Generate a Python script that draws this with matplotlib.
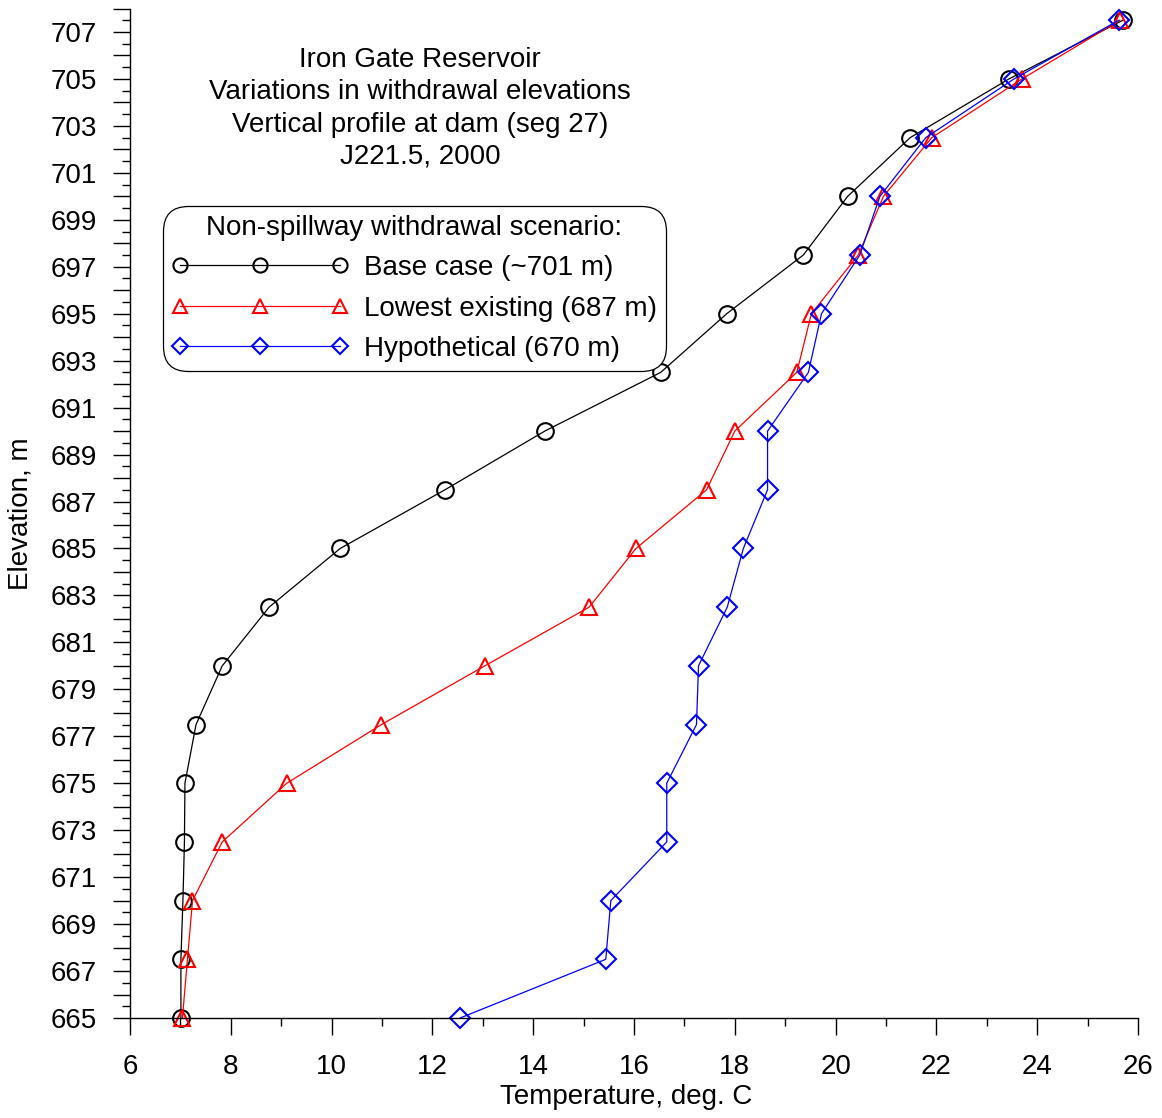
import matplotlib
matplotlib.use("Agg")
import matplotlib.pyplot as plt
from matplotlib.ticker import MultipleLocator, FixedLocator, FixedFormatter

plt.rcParams['font.family'] = ['Liberation Sans', 'DejaVu Sans']

elevation = [665, 667.5, 670, 672.5, 675, 677.5, 680, 682.5, 685, 687.5,
             690, 692.5, 695, 697.5, 700, 702.5, 705, 707.5]
base_case = [7.01, 7.01, 7.05, 7.08, 7.09, 7.31, 7.83, 8.76, 10.17, 12.25,
             14.23, 16.53, 17.84, 19.36, 20.24, 21.48, 23.44, 25.70]
lowest_existing = [7.04, 7.14, 7.24, 7.83, 9.11, 10.99, 13.04, 15.11, 16.04, 17.44,
                   18.00, 19.23, 19.52, 20.45, 20.95, 21.91, 23.70, 25.64]
hypothetical = [12.55, 15.44, 15.54, 16.65, 16.65, 17.24, 17.28, 17.85, 18.17, 18.65,
                18.65, 19.46, 19.72, 20.48, 20.88, 21.79, 23.54, 25.62]

labels = ["Base case (~701 m)", "Lowest existing (687 m)", "Hypothetical (670 m)"]
y_ticks = list(range(665, 709))
y_tick_labels = [str(v) if v % 2 == 1 else "" for v in y_ticks]
x_tick_labels = list(range(6, 27, 2))

W, H = 1162, 1118
fig = plt.figure(figsize=(W / 100, H / 100), dpi=100)
L, R, B, T = 130, 1138, 1018, 8.5
ax = fig.add_axes([L / W, 1 - B / H, (R - L) / W, (B - T) / H])

fs = 20
ax.plot(base_case, elevation, color='black', lw=0.9, marker='o', ms=12,
        mfc='none', mec='black', mew=1.5, clip_on=False, label=labels[0])
ax.plot(lowest_existing, elevation, color='red', lw=0.9, marker='^', ms=12,
        mfc='none', mec='red', mew=1.5, clip_on=False, label=labels[1])
ax.plot(hypothetical, elevation, color='blue', lw=0.9, marker='D', ms=10,
        mfc='none', mec='blue', mew=1.5, clip_on=False, label=labels[2])

ax.set_xlim(6, 26)
ax.set_ylim(665, 708)
ax.set_xticks(x_tick_labels)
ax.xaxis.set_minor_locator(MultipleLocator(1))
ax.yaxis.set_major_locator(FixedLocator(y_ticks))
ax.yaxis.set_major_formatter(FixedFormatter(y_tick_labels))
ax.yaxis.set_minor_locator(MultipleLocator(0.5))
ax.tick_params(axis='both', which='major', length=12, width=1, labelsize=fs,
               direction='out', colors='black')
ax.tick_params(axis='y', which='major', pad=12)
ax.tick_params(axis='x', which='major', pad=14)
ax.tick_params(axis='both', which='minor', length=6, width=1, direction='out')

for s in ['top', 'right']:
    ax.spines[s].set_visible(False)
for s in ['left', 'bottom']:
    ax.spines[s].set_linewidth(1)

ax.set_xlabel("Temperature, deg. C", fontsize=fs, va='center')
ax.xaxis.set_label_coords(0.492, -0.078)
ax.set_ylabel("Elevation, m", fontsize=fs, va='center')
ax.yaxis.set_label_coords(-0.109, 0.5)

title_lines = ["Iron Gate Reservoir", "Variations in withdrawal elevations",
               "Vertical profile at dam (seg 27)", "J221.5, 2000"]
for i, t in enumerate(title_lines):
    yp = 60 + i * 32.3
    ax.text((420 - L) / (R - L), 1 - (yp - T) / (B - T), t, transform=ax.transAxes,
            ha='center', va='center', fontsize=fs)

leg = ax.legend(loc='upper left', bbox_to_anchor=((163 - L) / (R - L), 1 - (206 - T) / (B - T)),
                borderaxespad=0, fontsize=fs, title="Non-spillway withdrawal scenario:",
                title_fontsize=fs, numpoints=3, handlelength=6.36, handletextpad=0.57,
                borderpad=0.31, labelspacing=0.52, frameon=True, fancybox=True,
                edgecolor='black', framealpha=1, markerscale=0.85)
leg.get_frame().set_linewidth(0.9)
leg.legendPatch.set_boxstyle("round,pad=0,rounding_size=0.9")

fig.savefig("out.png", dpi=100)
